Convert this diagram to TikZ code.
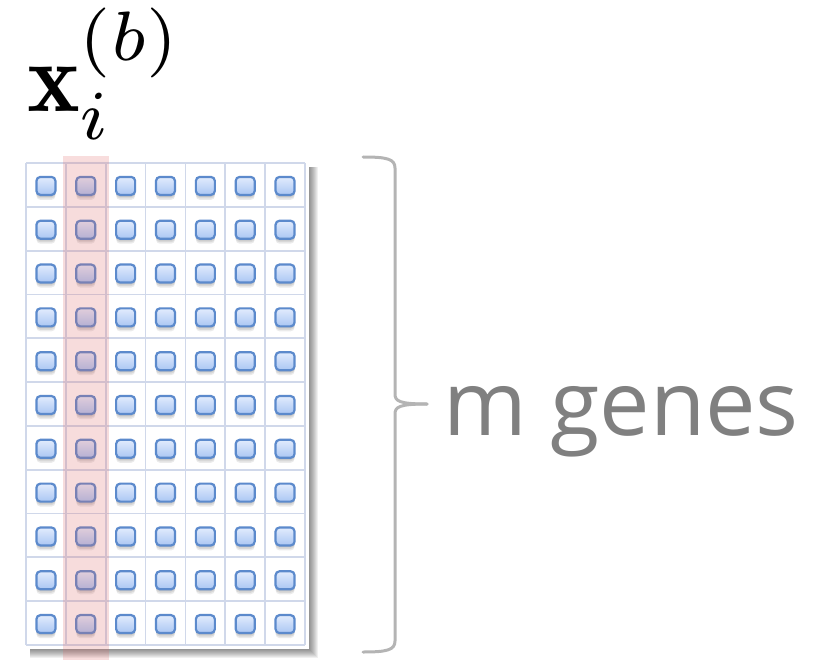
\documentclass[tikz,border=0pt]{standalone}
\usepackage{fontspec}
\newfontfamily\genesfont{Open Sans}
\definecolor{gridline}{RGB}{208,216,234}
\definecolor{iconedge}{RGB}{92,138,204}
\definecolor{icontop}{RGB}{226,236,253}
\definecolor{iconbot}{RGB}{170,198,243}
\definecolor{bandred}{RGB}{222,100,100}
\definecolor{bracegray}{RGB}{180,180,180}
\definecolor{textgray}{RGB}{128,128,128}
\tikzset{
  gline/.style={draw=gridline, line width=1.8pt},
  iconbox/.style={draw=iconedge, line width=2.2pt, rounded corners=4pt,
                  top color=icontop, bottom color=iconbot},
  iconshade/.style={fill=black, opacity=0.08, rounded corners=4pt},
  panelshade/.style={fill=black, opacity=0.06},
  bandfill/.style={fill=bandred, opacity=0.22},
  bracepath/.style={draw=bracegray, line width=3pt, line cap=round, line join=round},
}
\begin{document}
\begin{tikzpicture}[x=1pt,y=-1pt]
\useasboundingbox (0,0) rectangle (826,660);

% panel geometry: 7 columns x 11 rows
\def\gx{26}\def\gy{163}\def\cw{39.857}\def\rh{43.818}

% soft shadow of the panel
\foreach \k in {0,...,8}
  \fill[panelshade] (30,167) rectangle (310+\k,650+\k);
\fill[white] (24,161) rectangle (309,649);

% grid lines
\foreach \c in {0,...,7}
  \draw[gline] (\gx+\c*\cw,\gy) -- (\gx+\c*\cw,\gy+11*\rh);
\foreach \r in {0,...,11}
  \draw[gline] (\gx,\gy+\r*\rh) -- (\gx+7*\cw,\gy+\r*\rh);

% icons with their small shadows
\foreach \c in {0,...,6}{
  \foreach \r in {0,...,10}{
    \pgfmathsetmacro\cx{\gx+(\c+0.5)*\cw}
    \pgfmathsetmacro\cy{\gy+(\r+0.5)*\rh+1}
    \foreach \d in {2,3.5,5}
      \fill[iconshade] (\cx-9.5,\cy-9+\d) rectangle (\cx+9.5,\cy+9+\d);
    \path[iconbox] (\cx-9.5,\cy-9) rectangle (\cx+9.5,\cy+9);
  }
}

% highlighted sample column
\fill[bandfill] (63,156) rectangle (109,660);

% column label
\node[anchor=base west, inner sep=0pt]
  (lbl) at (27,112) {\scalebox{10}{$\mathbf{x}_i^{(b)}$}};

% curly brace spanning the rows
\coordinate (btop) at (363,157);
\coordinate (bbot) at (363,652);
\coordinate (tip) at (427,404);
\draw[bracepath] (btop) .. controls (387,157) and (395,159) .. (395,168)
  -- (395,394) .. controls (395,401) and (399,404) .. (tip);
\draw[bracepath] (bbot) .. controls (387,652) and (395,650) .. (395,641)
  -- (395,414) .. controls (395,407) and (399,404) .. (tip);

% row count label
\node[anchor=base west, inner sep=0pt, text=textgray,
      font=\genesfont\fontsize{90}{90}\selectfont]
  (genes) at (443,435) {m genes};
\end{tikzpicture}
\end{document}
